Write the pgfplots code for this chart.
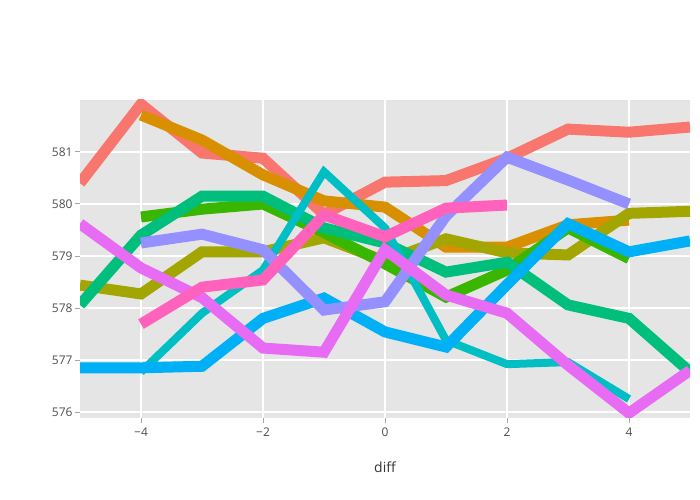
\documentclass[border=0pt]{standalone}
\usepackage{pgfplots}
\pgfplotsset{compat=1.18}
\usepackage{fontspec}
\setmainfont{Open Sans}
\definecolor{c1}{HTML}{F8766D}
\definecolor{c2}{HTML}{D89000}
\definecolor{c3}{HTML}{A3A500}
\definecolor{c4}{HTML}{39B600}
\definecolor{c5}{HTML}{00BF7D}
\definecolor{c6}{HTML}{00BFC4}
\definecolor{c7}{HTML}{00B0F6}
\definecolor{c8}{HTML}{9590FF}
\definecolor{c9}{HTML}{E76BF3}
\definecolor{c10}{HTML}{FF62BC}
\definecolor{bg}{HTML}{E5E5E5}
\definecolor{tk}{HTML}{4D4D4D}
\begin{document}
\begin{tikzpicture}[x=1bp,y=1bp]
\useasboundingbox (0,0) rectangle (700,500);
\begin{axis}[
  at={(80bp,82bp)}, anchor=south west,
  width=610bp, height=318bp, scale only axis,
  xmin=-5, xmax=5, ymin=575.885, ymax=582.0,
  axis background/.style={fill=bg},
  axis line style={draw=none},
  grid=major, major grid style={white, line width=1.1pt},
  xtick={-4,-2,0,2,4}, xticklabels={−4,−2,0,2,4},
  ytick={576,577,578,579,580,581},
  yticklabels={576,577,578,579,580,581},
  xtick pos=bottom, ytick pos=left,
  tick align=outside, major tick length=5bp,
  tick style={black!35, line width=1pt},
  every tick label/.style={font=\fontsize{12}{14}\selectfont, text=tk},
  xticklabel style={yshift=-1bp},
  yticklabel style={xshift=1bp},
  xlabel={diff}, xlabel style={font=\fontsize{14}{16}\selectfont, text=black!80, yshift=-19bp},
  clip=true,
  every axis plot/.append style={line width=11bp, line join=miter, line cap=butt, no marks},
]
\addplot[c1] coordinates {(-5,580.40)(-4,581.92)(-3,580.98)(-2,580.88)(-1,579.80)(0,580.42)(1,580.45)(2,580.88)(3,581.44)(4,581.38)(5,581.48)};
\addplot[c2] coordinates {(-4,581.71)(-3,581.23)(-2,580.56)(-1,580.06)(0,579.94)(1,579.17)(2,579.17)(3,579.60)(4,579.69)};
\addplot[c3] coordinates {(-5,578.44)(-4,578.27)(-3,579.08)(-2,579.08)(-1,579.35)(0,578.90)(1,579.33)(2,579.06)(3,579.02)(4,579.82)(5,579.86)};
\addplot[c4] coordinates {(-4,579.75)(-3,579.90)(-2,580.00)(-1,579.45)(0,578.85)(1,578.21)(2,578.73)(3,579.54)(4,578.95)};
\addplot[c5] coordinates {(-5,578.06)(-4,579.40)(-3,580.15)(-2,580.15)(-1,579.54)(0,579.25)(1,578.69)(2,578.88)(3,578.06)(4,577.80)(5,576.77)};
\addplot[c6, line width=8bp] coordinates {(-4,576.77)(-3,577.90)(-2,578.73)(-1,580.62)(0,579.54)(1,577.38)(2,576.92)(3,576.96)(4,576.25)};
\addplot[c7] coordinates {(-5,576.85)(-4,576.85)(-3,576.88)(-2,577.80)(-1,578.19)(0,577.54)(1,577.25)(2,578.45)(3,579.62)(4,579.08)(5,579.29)};
\addplot[c8] coordinates {(-4,579.25)(-3,579.42)(-2,579.12)(-1,577.96)(0,578.12)(1,579.77)(2,580.90)(3,580.46)(4,580.00)};
\addplot[c9] coordinates {(-5,579.62)(-4,578.77)(-3,578.20)(-2,577.23)(-1,577.15)(0,579.12)(1,578.25)(2,577.90)(3,576.90)(4,575.98)(5,576.80)};
\addplot[c10] coordinates {(-4,577.69)(-3,578.40)(-2,578.54)(-1,579.79)(0,579.37)(1,579.92)(2,579.98)};
\end{axis}
\end{tikzpicture}
\end{document}
